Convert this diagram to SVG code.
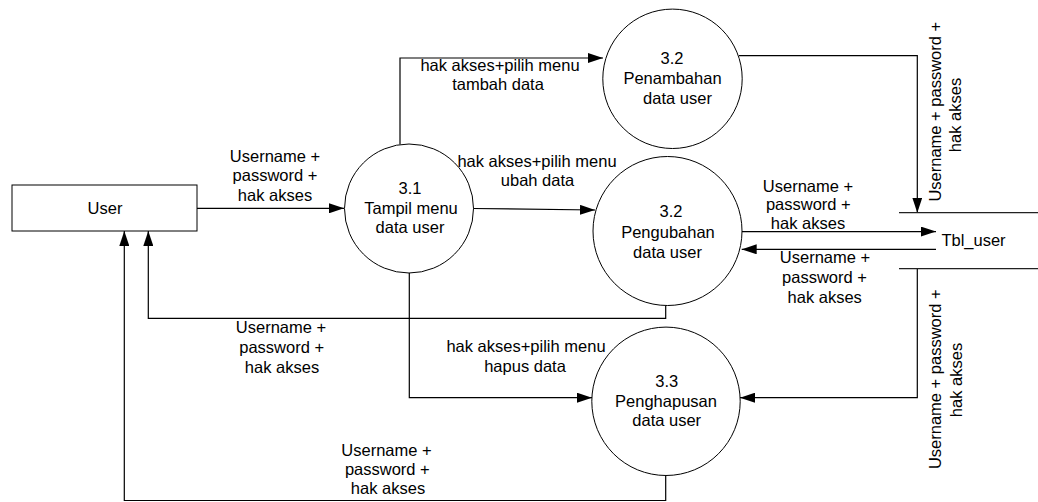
<svg xmlns="http://www.w3.org/2000/svg" width="1038" height="502" viewBox="0 0 1038 502">
<style>
  .shape { fill: #ffffff; stroke: #000000; stroke-width: 1; }
  .flow { fill: none; stroke: #000000; stroke-width: 1.2; }
  .store { fill: none; stroke: #222222; stroke-width: 1.2; }
  text { font-family: "Liberation Sans", Arial, sans-serif; font-size: 16.5px; fill: #000000; text-anchor: middle; }
</style>
<defs>
  <marker id="arrow" markerUnits="userSpaceOnUse" markerWidth="15" markerHeight="10" refX="15" refY="5" orient="auto">
    <path d="M0,0 L15,5 L0,10 z" fill="#000000"/>
  </marker>
</defs>
<rect width="1038" height="502" fill="#ffffff"/>

<g id="connectors">
  <path class="flow" d="M197 208.3 H344" marker-end="url(#arrow)"/>
  <path class="flow" d="M400 144.6 V58 H603" marker-end="url(#arrow)"/>
  <path class="flow" d="M473 208.5 L595 210" marker-end="url(#arrow)"/>
  <path class="flow" d="M739 55.7 H917.3 V212.7" marker-end="url(#arrow)"/>
  <path class="flow" d="M742 231.6 H936" marker-end="url(#arrow)"/>
  <path class="flow" d="M936 249.3 H741.7" marker-end="url(#arrow)"/>
  <path class="flow" d="M917.3 268.7 V397.7 H740" marker-end="url(#arrow)"/>
  <path class="flow" d="M409.3 273 V397.7 H592" marker-end="url(#arrow)"/>
  <path class="flow" d="M665.7 305.5 V318.3 H148.3 V231" marker-end="url(#arrow)"/>
  <path class="flow" d="M665.7 475.7 V500.5 H124.3 V231" marker-end="url(#arrow)"/>

  <text x="275" y="161.5">Username +</text>
  <text x="275" y="181">password +</text>
  <text x="275" y="200.5">hak akses</text>

  <text x="500" y="70.5">hak akses+pilih menu</text>
  <text x="498" y="90">tambah data</text>

  <text x="537" y="166.5">hak akses+pilih menu</text>
  <text x="537.5" y="186">ubah data</text>

  <text x="808" y="191.5">Username +</text>
  <text x="808.3" y="210">password +</text>
  <text x="808" y="228.5">hak akses</text>

  <text x="825" y="263.3">Username +</text>
  <text x="824.5" y="283">password +</text>
  <text x="824.7" y="303">hak akses</text>

  <text x="281" y="333.3">Username +</text>
  <text x="281.7" y="353">password +</text>
  <text x="282" y="372.7">hak akses</text>

  <text x="526" y="351.7">hak akses+pilih menu</text>
  <text x="525" y="371.7">hapus data</text>

  <text x="386.5" y="455.7">Username +</text>
  <text x="387.3" y="475">password +</text>
  <text x="388" y="494.3">hak akses</text>

  <g transform="translate(940.7,111.7) rotate(-90)">
    <text x="0" y="0">Username + password +</text>
    <text x="-3.3" y="20.5">hak akses</text>
  </g>
  <g transform="translate(941.2,379.2) rotate(-90)">
    <text x="0" y="0">Username + password +</text>
    <text x="-0.8" y="20.5">hak akses</text>
  </g>
</g>

<g id="user">
  <rect class="shape" x="12" y="185" width="185" height="46"/>
  <text x="105" y="214">User</text>
</g>

<g id="p31">
  <circle class="shape" cx="409" cy="208.5" r="64.5"/>
  <text x="410" y="194">3.1</text>
  <text x="411" y="213.5">Tampil menu</text>
  <text x="410" y="233">data user</text>
</g>

<g id="p32a">
  <circle class="shape" cx="672.5" cy="78.8" r="69.7"/>
  <text x="672" y="64.3">3.2</text>
  <text x="672.5" y="84">Penambahan</text>
  <text x="677.5" y="103.5">data user</text>
</g>

<g id="p32b">
  <circle class="shape" cx="667.5" cy="231" r="74.5"/>
  <text x="671" y="216.5">3.2</text>
  <text x="668" y="237.5">Pengubahan</text>
  <text x="667.5" y="258">data user</text>
</g>

<g id="p33">
  <circle class="shape" cx="666" cy="401.3" r="74.2"/>
  <text x="666.7" y="386.7">3.3</text>
  <text x="666" y="406.7">Penghapusan</text>
  <text x="666.7" y="426">data user</text>
</g>

<g id="tbl_user">
  <path class="store" d="M899 212.7 H1038"/>
  <path class="store" d="M899 268.7 H1038"/>
  <text x="973.5" y="245.7">Tbl_user</text>
</g>
</svg>
